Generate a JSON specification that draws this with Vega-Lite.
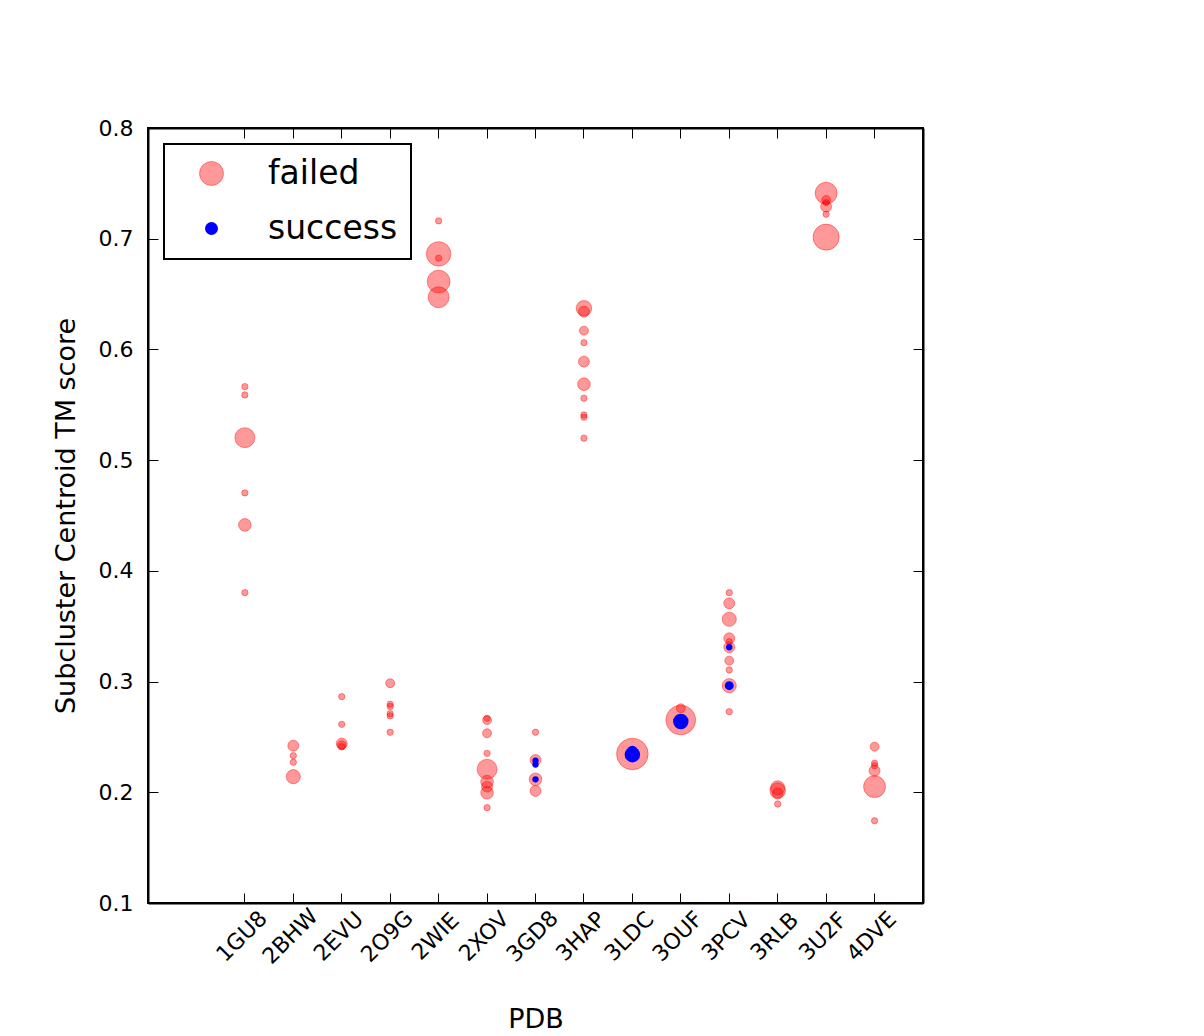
{
  "$schema": "https://vega.github.io/schema/vega-lite/v6.json",
  "width": 775,
  "height": 775,
  "autosize": {"type": "none"},
  "padding": {"left": 148, "top": 128, "right": 281, "bottom": 133},
  "background": "white",
  "config": {
    "font": "DejaVu Sans",
    "view": {"stroke": "black", "strokeWidth": 2},
    "axis": {
      "grid": false,
      "domainColor": "black",
      "domainWidth": 2,
      "tickColor": "black",
      "tickWidth": 1,
      "tickSize": -10,
      "labelColor": "black",
      "titleColor": "black",
      "labelFont": "DejaVu Sans",
      "titleFont": "DejaVu Sans",
      "labelFontSize": 22,
      "titleFontSize": 27,
      "titleFontWeight": "normal"
    }
  },
  "data": {
    "values": [
      {"pdb": "1GU8", "tm": 0.5664, "members": 1, "outcome": "failed"},
      {"pdb": "1GU8", "tm": 0.5589, "members": 1, "outcome": "failed"},
      {"pdb": "1GU8", "tm": 0.5203, "members": 10, "outcome": "failed"},
      {"pdb": "1GU8", "tm": 0.4704, "members": 1, "outcome": "failed"},
      {"pdb": "1GU8", "tm": 0.4415, "members": 4, "outcome": "failed"},
      {"pdb": "1GU8", "tm": 0.3803, "members": 1, "outcome": "failed"},
      {"pdb": "2BHW", "tm": 0.2421, "members": 3, "outcome": "failed"},
      {"pdb": "2BHW", "tm": 0.2331, "members": 1, "outcome": "failed"},
      {"pdb": "2BHW", "tm": 0.2271, "members": 1, "outcome": "failed"},
      {"pdb": "2BHW", "tm": 0.2141, "members": 5, "outcome": "failed"},
      {"pdb": "2EVU", "tm": 0.2864, "members": 1, "outcome": "failed"},
      {"pdb": "2EVU", "tm": 0.2614, "members": 1, "outcome": "failed"},
      {"pdb": "2EVU", "tm": 0.2440, "members": 3, "outcome": "failed"},
      {"pdb": "2EVU", "tm": 0.2425, "members": 2, "outcome": "failed"},
      {"pdb": "2EVU", "tm": 0.2412, "members": 1, "outcome": "failed"},
      {"pdb": "2O9G", "tm": 0.2985, "members": 2, "outcome": "failed"},
      {"pdb": "2O9G", "tm": 0.2795, "members": 1, "outcome": "failed"},
      {"pdb": "2O9G", "tm": 0.2775, "members": 1, "outcome": "failed"},
      {"pdb": "2O9G", "tm": 0.2710, "members": 1, "outcome": "failed"},
      {"pdb": "2O9G", "tm": 0.2690, "members": 1, "outcome": "failed"},
      {"pdb": "2O9G", "tm": 0.2542, "members": 1, "outcome": "failed"},
      {"pdb": "2WIE", "tm": 0.7161, "members": 1, "outcome": "failed"},
      {"pdb": "2WIE", "tm": 0.6863, "members": 15, "outcome": "failed"},
      {"pdb": "2WIE", "tm": 0.6824, "members": 1, "outcome": "failed"},
      {"pdb": "2WIE", "tm": 0.6613, "members": 13, "outcome": "failed"},
      {"pdb": "2WIE", "tm": 0.6471, "members": 11, "outcome": "failed"},
      {"pdb": "2XOV", "tm": 0.2668, "members": 1, "outcome": "failed"},
      {"pdb": "2XOV", "tm": 0.2652, "members": 2, "outcome": "failed"},
      {"pdb": "2XOV", "tm": 0.2533, "members": 2, "outcome": "failed"},
      {"pdb": "2XOV", "tm": 0.2352, "members": 1, "outcome": "failed"},
      {"pdb": "2XOV", "tm": 0.2208, "members": 10, "outcome": "failed"},
      {"pdb": "2XOV", "tm": 0.2096, "members": 4, "outcome": "failed"},
      {"pdb": "2XOV", "tm": 0.2051, "members": 3, "outcome": "failed"},
      {"pdb": "2XOV", "tm": 0.1996, "members": 4, "outcome": "failed"},
      {"pdb": "2XOV", "tm": 0.1861, "members": 1, "outcome": "failed"},
      {"pdb": "3GD8", "tm": 0.2542, "members": 1, "outcome": "failed"},
      {"pdb": "3GD8", "tm": 0.2292, "members": 3, "outcome": "failed"},
      {"pdb": "3GD8", "tm": 0.2117, "members": 4, "outcome": "failed"},
      {"pdb": "3GD8", "tm": 0.2012, "members": 3, "outcome": "failed"},
      {"pdb": "3HAP", "tm": 0.6372, "members": 6, "outcome": "failed"},
      {"pdb": "3HAP", "tm": 0.6342, "members": 3, "outcome": "failed"},
      {"pdb": "3HAP", "tm": 0.6170, "members": 2, "outcome": "failed"},
      {"pdb": "3HAP", "tm": 0.6061, "members": 1, "outcome": "failed"},
      {"pdb": "3HAP", "tm": 0.5890, "members": 3, "outcome": "failed"},
      {"pdb": "3HAP", "tm": 0.5686, "members": 4, "outcome": "failed"},
      {"pdb": "3HAP", "tm": 0.5559, "members": 1, "outcome": "failed"},
      {"pdb": "3HAP", "tm": 0.5408, "members": 1, "outcome": "failed"},
      {"pdb": "3HAP", "tm": 0.5388, "members": 1, "outcome": "failed"},
      {"pdb": "3HAP", "tm": 0.5198, "members": 1, "outcome": "failed"},
      {"pdb": "3LDC", "tm": 0.2346, "members": 25, "outcome": "failed"},
      {"pdb": "3OUF", "tm": 0.2759, "members": 2, "outcome": "failed"},
      {"pdb": "3OUF", "tm": 0.2653, "members": 22, "outcome": "failed"},
      {"pdb": "3PCV", "tm": 0.3803, "members": 1, "outcome": "failed"},
      {"pdb": "3PCV", "tm": 0.3707, "members": 3, "outcome": "failed"},
      {"pdb": "3PCV", "tm": 0.3563, "members": 5, "outcome": "failed"},
      {"pdb": "3PCV", "tm": 0.3391, "members": 3, "outcome": "failed"},
      {"pdb": "3PCV", "tm": 0.3360, "members": 1, "outcome": "failed"},
      {"pdb": "3PCV", "tm": 0.3310, "members": 3, "outcome": "failed"},
      {"pdb": "3PCV", "tm": 0.3189, "members": 2, "outcome": "failed"},
      {"pdb": "3PCV", "tm": 0.3105, "members": 1, "outcome": "failed"},
      {"pdb": "3PCV", "tm": 0.2963, "members": 5, "outcome": "failed"},
      {"pdb": "3PCV", "tm": 0.2728, "members": 1, "outcome": "failed"},
      {"pdb": "3RLB", "tm": 0.2040, "members": 5, "outcome": "failed"},
      {"pdb": "3RLB", "tm": 0.2015, "members": 6, "outcome": "failed"},
      {"pdb": "3RLB", "tm": 0.1990, "members": 3, "outcome": "failed"},
      {"pdb": "3RLB", "tm": 0.1894, "members": 1, "outcome": "failed"},
      {"pdb": "3U2F", "tm": 0.7411, "members": 12, "outcome": "failed"},
      {"pdb": "3U2F", "tm": 0.7350, "members": 2, "outcome": "failed"},
      {"pdb": "3U2F", "tm": 0.7326, "members": 1, "outcome": "failed"},
      {"pdb": "3U2F", "tm": 0.7290, "members": 3, "outcome": "failed"},
      {"pdb": "3U2F", "tm": 0.7221, "members": 1, "outcome": "failed"},
      {"pdb": "3U2F", "tm": 0.7014, "members": 17, "outcome": "failed"},
      {"pdb": "4DVE", "tm": 0.2412, "members": 2, "outcome": "failed"},
      {"pdb": "4DVE", "tm": 0.2262, "members": 1, "outcome": "failed"},
      {"pdb": "4DVE", "tm": 0.2240, "members": 1, "outcome": "failed"},
      {"pdb": "4DVE", "tm": 0.2195, "members": 3, "outcome": "failed"},
      {"pdb": "4DVE", "tm": 0.2051, "members": 12, "outcome": "failed"},
      {"pdb": "4DVE", "tm": 0.1743, "members": 1, "outcome": "failed"},
      {"pdb": "3GD8", "tm": 0.2285, "members": 1, "outcome": "success"},
      {"pdb": "3GD8", "tm": 0.2250, "members": 1, "outcome": "success"},
      {"pdb": "3GD8", "tm": 0.2117, "members": 1, "outcome": "success"},
      {"pdb": "3LDC", "tm": 0.2370, "members": 3, "outcome": "success"},
      {"pdb": "3LDC", "tm": 0.2340, "members": 6, "outcome": "success"},
      {"pdb": "3OUF", "tm": 0.2640, "members": 6, "outcome": "success"},
      {"pdb": "3PCV", "tm": 0.3310, "members": 1, "outcome": "success"},
      {"pdb": "3PCV", "tm": 0.2963, "members": 2, "outcome": "success"}
    ]
  },
  "layer": [
    {
      "mark": {"type": "circle", "opacity": 1, "stroke": "#ff0000", "strokeWidth": 1},
      "encoding": {
        "x": {
          "field": "pdb",
          "type": "ordinal",
          "sort": ["1GU8", "2BHW", "2EVU", "2O9G", "2WIE", "2XOV", "3GD8", "3HAP", "3LDC", "3OUF", "3PCV", "3RLB", "3U2F", "4DVE"],
          "scale": {"type": "band", "paddingInner": 0, "paddingOuter": 1, "align": 0.75},
          "axis": {
            "orient": "bottom",
            "title": "PDB",
            "labelAngle": -45,
            "labelAlign": "center",
            "labelBaseline": "middle",
            "labelPadding": 43,
            "labelOffset": -3,
            "titlePadding": 39
          }
        },
        "y": {
          "field": "tm",
          "type": "quantitative",
          "scale": {"domain": [0.1, 0.8], "nice": false, "zero": false},
          "axis": {
            "orient": "left",
            "title": "Subcluster Centroid TM score",
            "values": [0.1, 0.2, 0.3, 0.4, 0.5, 0.6, 0.7, 0.8],
            "format": ".1f",
            "labelPadding": 25,
            "titlePadding": 18
          }
        },
        "size": {
          "field": "members",
          "type": "quantitative",
          "scale": {"type": "linear", "domain": [0, 30], "range": [0, 1200], "zero": true},
          "legend": null
        },
        "order": {"field": "outcome", "sort": "ascending"},
        "fillOpacity": {"condition": {"test": "datum.outcome === 'failed'", "value": 0.4}, "value": 1},
        "strokeOpacity": {"condition": {"test": "datum.outcome === 'failed'", "value": 0.4}, "value": 0},
        "color": {
          "field": "outcome",
          "type": "nominal",
          "scale": {"domain": ["failed", "success"], "range": ["#ff0000", "#0000ff"]},
          "legend": {
            "title": null,
            "orient": "top-left",
            "offset": 16,
            "fillColor": "white",
            "strokeColor": "black",
            "padding": 13,
            "cornerRadius": 0,
            "labelFont": "DejaVu Sans",
            "labelFontSize": 33,
            "labelColor": "black",
            "labelLimit": 400,
            "labelOffset": 40,
            "symbolOffset": 18,
            "symbolSize": 576,
            "symbolType": "circle",
            "rowPadding": 21,
            "encoding": {
              "legend": {"strokeWidth": {"value": 2}},
              "symbols": {
                "size": {"value": {"expr": "datum.value === 'failed' ? 576 : 169"}},
                "opacity": {"value": 1},
                "fillOpacity": {"value": {"expr": "datum.value === 'failed' ? 0.4 : 1"}},
                "strokeWidth": {"value": 1},
                "strokeOpacity": {"value": {"expr": "datum.value === 'failed' ? 0.4 : 0"}}
              }
            }
          }
        }
      }
    },
    {
      "mark": {"type": "circle", "opacity": 0},
      "encoding": {
        "x": {
          "field": "pdb",
          "type": "ordinal",
          "sort": ["1GU8", "2BHW", "2EVU", "2O9G", "2WIE", "2XOV", "3GD8", "3HAP", "3LDC", "3OUF", "3PCV", "3RLB", "3U2F", "4DVE"],
          "axis": {"orient": "top", "labels": false, "title": null}
        },
        "y": {
          "field": "tm",
          "type": "quantitative",
          "axis": {"orient": "right", "labels": false, "title": null, "values": [0.1, 0.2, 0.3, 0.4, 0.5, 0.6, 0.7, 0.8]}
        }
      }
    }
  ],
  "resolve": {"axis": {"x": "independent", "y": "independent"}}
}
